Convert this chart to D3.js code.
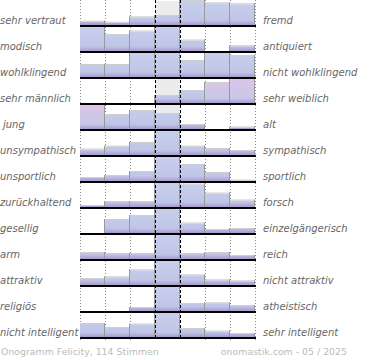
<!DOCTYPE html>
<html><head><meta charset="utf-8">
<script src="https://cdn.jsdelivr.net/npm/d3@7"></script>
<style>html,body{margin:0;padding:0;background:#fff;}svg{display:block;}</style>
</head><body>
<svg id="c" width="370" height="360"></svg>
<script>
const leftLabels = ["sehr vertraut","modisch","wohlklingend","sehr männlich","jung","unsympathisch","unsportlich","zurückhaltend","gesellig","arm","attraktiv","religiös","nicht intelligent"];
const rightLabels = ["fremd","antiquiert","nicht wohlklingend","sehr weiblich","alt","sympathisch","sportlich","forsch","einzelgängerisch","reich","nicht attraktiv","atheistisch","sehr intelligent"];
const steps = [1,2,3,4,5,6,7];
const r0 = [3.3, 2.3, 7.7, 9, 24, 21.7, 20.7];
const r1 = [24, 16, 19.5, 24, 10.5, 0, 4.8];
const r2 = [12, 12, 24, 24, 16, 24, 21];
const r3 = [0, 0, 0, 7, 12, 20, 24];
const r4 = [24, 14, 18, 15, 4, 0, 1.5];
const r5 = [5.5, 8.5, 12, 24, 8.5, 6, 4];
const r6 = [3, 5, 9, 24, 16, 8, 0.5];
const r7 = [1, 5, 5, 24, 22.5, 13.5, 6.5];
const r8 = [0, 13, 17, 24, 9.5, 3, 4];
const r9 = [6, 5, 5, 24, 5, 6, 3];
const r10 = [6, 7.7, 14.7, 24, 9.7, 4.7, 3.7];
const r11 = [0, 0, 3, 24, 7, 7.7, 5];
const r12 = [13, 9, 12.5, 24, 8, 5.5, 3];
const values = [r0,r1,r2,r3,r4,r5,r6,r7,r8,r9,r10,r11,r12];
// bars drawn in pink tint: [row, step]
const pinkBars = [[3,6],[3,7],[4,1]];
const footerLeft = "Onogramm Felicity, 114 Stimmen";
const footerRight = "onomastik.com - 05 / 2025";

const svg = d3.select("#c");
const defs = svg.append("defs");
const x = d3.scaleBand().domain(steps).range([80,255]).padding(0);
const rowScale = d3.scaleBand().domain(d3.range(values.length)).range([-1, 337]).padding(0);
const rowH = 24;

function isPink(r,s){return pinkBars.some(p=>p[0]===r&&p[1]===s);}

const gridG = svg.append("g");
const plot = svg.append("g");
const overG = svg.append("g");

[80,105,130,205,230,255].forEach(xx=>{
  gridG.append("line").attr("x1",xx+0.5).attr("x2",xx+0.5).attr("y1",0).attr("y2",340)
    .attr("stroke","#888").attr("stroke-width",1).attr("stroke-dasharray","1,2");
});

values.forEach((row,ri)=>{
  const base = rowScale(ri) + rowScale.bandwidth();
  const y = d3.scaleLinear().domain([0,d3.max(row)]).range([base, base-rowH]);
  ["b","p"].forEach(k=>{
    const g = defs.append("linearGradient").attr("id",`g${k}${ri}`)
      .attr("gradientUnits","userSpaceOnUse").attr("x1",0).attr("x2",0)
      .attr("y1",base-rowH).attr("y2",base);
    const c0 = k==="b" ? "#c8cfec" : "#dcc5e7";
    const c1 = k==="b" ? "#c0c6e7" : "#c6c8e8";
    g.append("stop").attr("offset","0").attr("stop-color",c0);
    g.append("stop").attr("offset","0.8").attr("stop-color",c1);
    g.append("stop").attr("offset","1").attr("stop-color","#a89cd0");
  });
  plot.append("rect").attr("x",x(4)).attr("width",x.bandwidth())
    .attr("y",base-rowH).attr("height",rowH).attr("fill","#ececec");
  const g = plot.append("g");
  g.selectAll("rect.bar").data(row).join("rect").attr("class","bar")
    .attr("x",(d,i)=>x(steps[i])).attr("width",x.bandwidth())
    .attr("y",d=>y(d)).attr("height",d=>base-y(d))
    .attr("fill",(d,i)=> isPink(ri,steps[i]) ? `url(#gp${ri})` : `url(#gb${ri})`);
  g.selectAll("line.tp").data(row).join("line").attr("class","tp")
    .attr("x1",(d,i)=>x(steps[i])).attr("x2",(d,i)=>x(steps[i])+x.bandwidth())
    .attr("y1",d=>y(d)-0.5).attr("y2",d=>y(d)-0.5)
    .attr("stroke",d=>d>0?"#cfcfcf":"none").attr("stroke-width",1);
  row.forEach((d,i)=>{
    const next = i<row.length-1 ? row[i+1] : 0;
    const hi = Math.min(y(d), y(next));
    if (base-hi > 0.5) {
      const xx = x(steps[i]) + x.bandwidth();
      g.append("line").attr("x1",xx-0.5).attr("x2",xx-0.5).attr("y1",hi-1).attr("y2",base)
        .attr("stroke","#999").attr("stroke-width",1);
    }
  });
  overG.append("line").attr("x1",80).attr("x2",256).attr("y1",base+1).attr("y2",base+1)
    .attr("stroke","#000").attr("stroke-width",2);
  svg.append("text").attr("x", leftLabels[ri]==="jung"?3:0).attr("y",base-1.5)
    .attr("font-family","DejaVu Sans").attr("font-style","italic").attr("font-size",10)
    .attr("fill","#666").text(leftLabels[ri]);
  svg.append("text").attr("x",263).attr("y",base-1.5)
    .attr("font-family","DejaVu Sans").attr("font-style","italic").attr("font-size",10)
    .attr("fill","#666").text(rightLabels[ri]);
});

[155,180].forEach(xx=>{
  overG.append("line").attr("x1",xx+0.5).attr("x2",xx+0.5).attr("y1",0).attr("y2",340)
    .attr("stroke","#000").attr("stroke-width",1).attr("stroke-dasharray","3,2");
});

svg.append("text").attr("x",1).attr("y",355).attr("font-family","DejaVu Sans")
  .attr("font-size",9.4).attr("fill","#bbb").text(footerLeft);
svg.append("text").attr("x",347).attr("y",355).attr("text-anchor","end").attr("font-family","DejaVu Sans")
  .attr("font-size",9.4).attr("fill","#bbb").text(footerRight);
</script>
</body></html>
